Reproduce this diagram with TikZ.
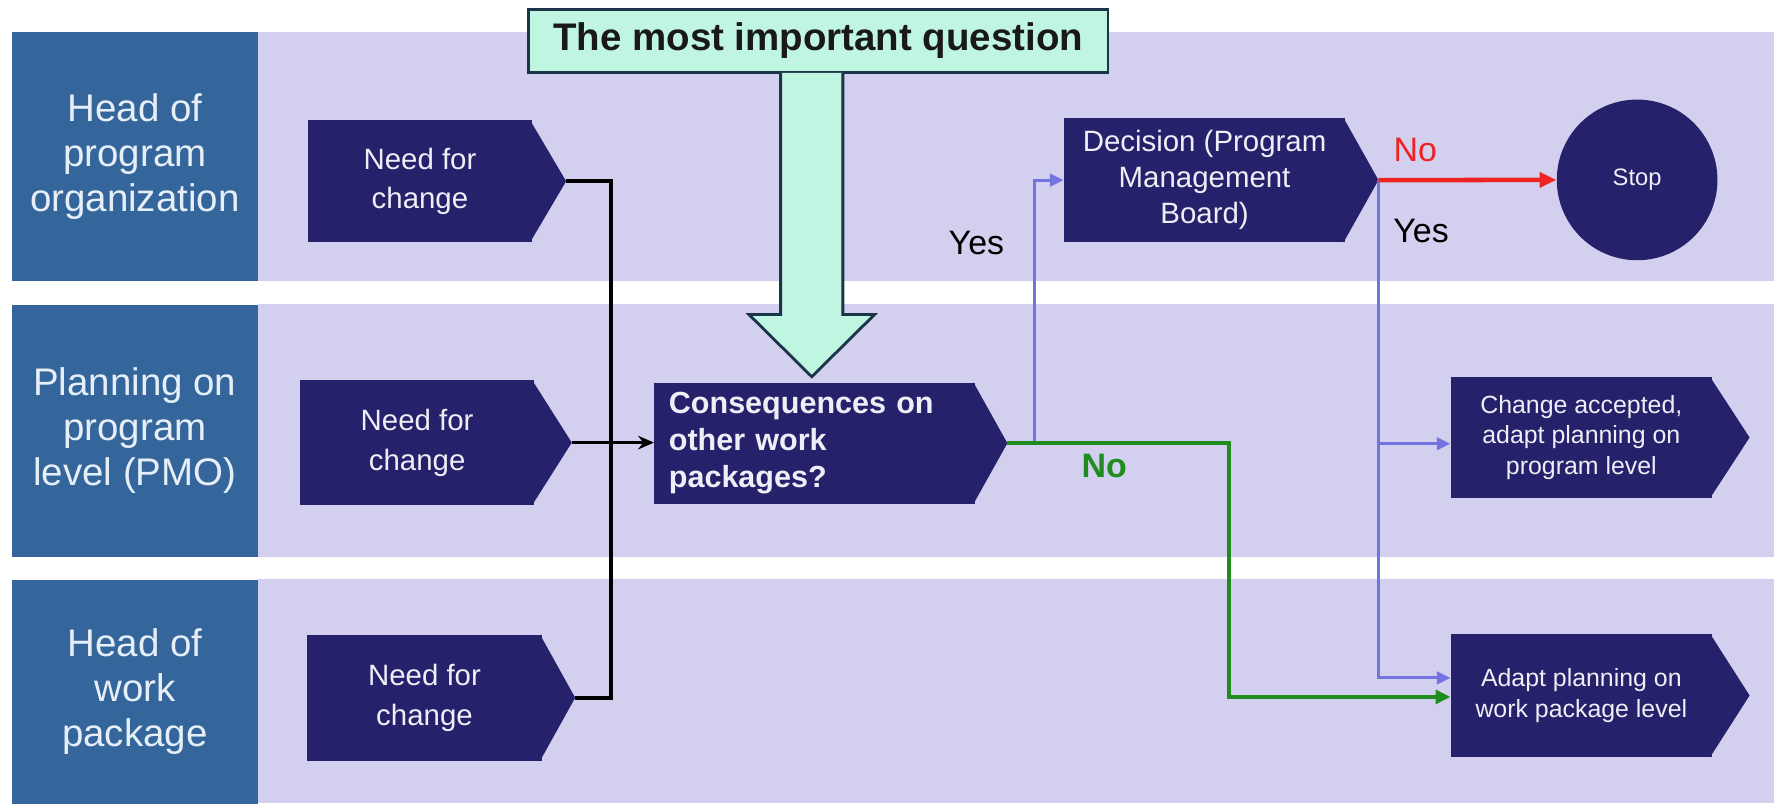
\documentclass[tikz,border=0pt]{standalone}
\usepackage{fontspec}
\setmainfont{Liberation Sans}
\usetikzlibrary{arrows.meta,calc}
\definecolor{lav}{HTML}{D3D0EF}
\definecolor{steel}{HTML}{34669B}
\definecolor{navy}{HTML}{25216B}
\definecolor{mint}{HTML}{C0F5E2}
\definecolor{mintline}{HTML}{1A3448}
\definecolor{bluel}{HTML}{7474E0}
\definecolor{greenl}{HTML}{1E8C1E}
\definecolor{redl}{HTML}{EE2424}
\definecolor{lanetxt}{HTML}{E6EEF8}
\definecolor{boxtxt}{HTML}{EEEEF6}
\begin{document}
\begin{tikzpicture}[x=1pt,y=-1pt,
  lanelabel/.style={fill=steel, draw=none, text=lanetxt, align=center,
    font=\fontsize{34}{40}\selectfont, inner sep=0pt,
    minimum width=218pt, minimum height=220pt, anchor=north west},
  navybox/.style={fill=navy, draw=none, text=boxtxt, align=center, inner sep=0pt, anchor=north west},
  blk/.style={draw=black, line width=3.2pt},
  grn/.style={draw=greenl, line width=3.2pt},
  blu/.style={draw=bluel, line width=2.6pt},
  rd/.style={draw=redl, line width=4pt},
  lbl/.style={font=\fontsize{30}{36}\selectfont, inner sep=0pt}
]
\useasboundingbox (0,0) rectangle (1568,710);
\fill[white] (0,0) rectangle (1568,710);
% lane backgrounds
\fill[lav] (228,28) rectangle (1568,248);
\fill[lav] (228,269) rectangle (1568,492);
\fill[lav] (228,512) rectangle (1568,710);
% lane labels
\node[lanelabel] (L1) at (10,28) {Head of\\program\\organization};
\node[lanelabel, minimum height=223pt] (L2) at (10,269) {Planning on\\program\\level (PMO)};
\node[lanelabel, minimum height=198pt] (L3) at (10,512) {Head of\\work\\package};

% need for change boxes
\node[navybox, minimum width=198pt, minimum height=108pt, font=\fontsize{26}{35}\selectfont] (n1) at (272,106) {Need for\\change};
\fill[navy] ($(n1.north east)+(-2,0)$) -- ($(n1.east)+(30,0)$) -- ($(n1.south east)+(-2,0)$) -- cycle;
\coordinate (n1tip) at ($(n1.east)+(30,0)$);

\node[navybox, minimum width=207pt, minimum height=110pt, font=\fontsize{26}{35}\selectfont] (n2) at (265,336) {Need for\\change};
\fill[navy] ($(n2.north east)+(-2,0)$) -- ($(n2.east)+(33,0)$) -- ($(n2.south east)+(-2,0)$) -- cycle;
\coordinate (n2tip) at ($(n2.east)+(33,0)$);

\node[navybox, minimum width=208pt, minimum height=111pt, font=\fontsize{26}{35}\selectfont] (n3) at (271,561) {Need for\\change};
\fill[navy] ($(n3.north east)+(-2,0)$) -- ($(n3.east)+(29,0)$) -- ($(n3.south east)+(-2,0)$) -- cycle;
\coordinate (n3tip) at ($(n3.east)+(29,0)$);

% consequences
\node[navybox, minimum width=284pt, minimum height=107pt, text width=258pt, inner xsep=13pt, align=left,
  font=\bfseries\fontsize{27}{33}\selectfont] (cq) at (578,338) {Consequences on\\other work\\packages?};
\fill[navy] ($(cq.north east)+(-2,0)$) -- ($(cq.east)+(28,0)$) -- ($(cq.south east)+(-2,0)$) -- cycle;
\coordinate (cqtip) at ($(cq.east)+(28,0)$);

% decision
\node[navybox, minimum width=249pt, minimum height=110pt, font=\fontsize{26}{32}\selectfont] (dec) at (940,104) {Decision (Program\\Management\\Board)};
\fill[navy] ($(dec.north east)+(-2,0)$) -- ($(dec.east)+(29,0)$) -- ($(dec.south east)+(-2,0)$) -- cycle;
\coordinate (dectip) at ($(dec.east)+(29,0)$);

% stop
\node[circle, fill=navy, minimum size=142pt, inner sep=0pt, text=boxtxt, font=\fontsize{21}{24}\selectfont] (stop) at (1447,159) {Stop};

% change accepted
\node[navybox, minimum width=231pt, minimum height=107pt, font=\fontsize{22}{27}\selectfont] (chg) at (1282,333) {Change accepted,\\adapt planning on\\program level};
\fill[navy] ($(chg.north east)+(-2,0)$) -- ($(chg.east)+(33,0)$) -- ($(chg.south east)+(-2,0)$) -- cycle;

% adapt
\node[navybox, minimum width=231pt, minimum height=109pt, font=\fontsize{22}{28}\selectfont] (adp) at (1282,560) {Adapt planning on\\work package level};
\fill[navy] ($(adp.north east)+(-2,0)$) -- ($(adp.east)+(33,0)$) -- ($(adp.south east)+(-2,0)$) -- cycle;

% title and big arrow
\node[draw=mintline, line width=2.5pt, fill=mint, minimum width=512pt, minimum height=56pt, inner sep=0pt,
  anchor=north west, text=black!90, font=\bfseries\fontsize{34}{40}\selectfont] (title) at (466,7) {The most important question};
\filldraw[fill=mint, draw=mintline, line width=2.5pt, line join=miter]
  (690,64.5) -- (690,278) -- (662,278) -- (717.5,333) -- (773,278) -- (745,278) -- (745,64.5);

% connectors
\coordinate (bus) at (540,391);
\draw[blk, line join=miter] (n1tip) -| (bus) |- (n3tip);
\draw[blk, -{Stealth[length=14pt,width=12pt]}] (n2tip) -- (n2tip -| cq.west);

\coordinate (gcorner) at (1086,616);
\coordinate (adpG) at (gcorner -| adp.west);
\coordinate (adpB) at ($(adp.west)+(0,-15.5)$);
\coordinate (chgB) at ($(chg.west)+(0,5.5)$);
\coordinate (bj1) at ($(cqtip)+(24,0)$);
\draw[blu, -{Triangle[length=12pt,width=11pt]}] (bj1) |- (dec.west);
\draw[blu, -{Triangle[length=12pt,width=11pt]}] (dectip) |- (adpB);
\draw[blu, -{Triangle[length=12pt,width=11pt]}] (dectip |- chgB) -- (chgB);
\draw[grn, line join=miter, -{Triangle[length=13pt,width=12pt]}] (cqtip) -| (gcorner) -- (adpG);
\draw[rd, -{Triangle[length=15pt,width=13pt]}] (dectip) -- (stop.west);

% labels
\node[lbl] (yes1) at (863,215) {Yes};
\node[lbl] (yes2) at (1256,204) {Yes};
\node[lbl, text=redl] (no1) at (1251,133) {No};
\node[lbl, text=greenl, font=\bfseries\fontsize{30}{36}\selectfont] (no2) at (976,412) {No};
\end{tikzpicture}
\end{document}
